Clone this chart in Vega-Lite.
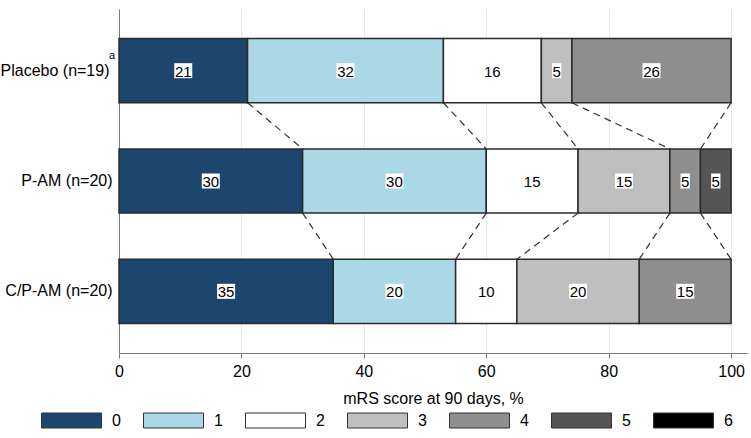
{
  "$schema": "https://vega.github.io/schema/vega-lite/v6.json",
  "autosize": {"type": "none"},
  "padding": {"left": 119, "top": 9, "right": 4, "bottom": 85},
  "width": 628,
  "height": 344,
  "config": {
    "view": {"stroke": null},
    "font": "Liberation Sans",
    "axis": {"labelFont": "Liberation Sans", "titleFont": "Liberation Sans"},
    "legend": {"labelFont": "Liberation Sans"}
  },
  "datasets": {
    "segments": [
      {"group": "Placebo (n=19)", "score": 0, "pct": 21},
      {"group": "Placebo (n=19)", "score": 1, "pct": 32},
      {"group": "Placebo (n=19)", "score": 2, "pct": 16},
      {"group": "Placebo (n=19)", "score": 3, "pct": 5},
      {"group": "Placebo (n=19)", "score": 4, "pct": 26},
      {"group": "P-AM (n=20)", "score": 0, "pct": 30},
      {"group": "P-AM (n=20)", "score": 1, "pct": 30},
      {"group": "P-AM (n=20)", "score": 2, "pct": 15},
      {"group": "P-AM (n=20)", "score": 3, "pct": 15},
      {"group": "P-AM (n=20)", "score": 4, "pct": 5},
      {"group": "P-AM (n=20)", "score": 5, "pct": 5},
      {"group": "C/P-AM (n=20)", "score": 0, "pct": 35},
      {"group": "C/P-AM (n=20)", "score": 1, "pct": 20},
      {"group": "C/P-AM (n=20)", "score": 2, "pct": 10},
      {"group": "C/P-AM (n=20)", "score": 3, "pct": 20},
      {"group": "C/P-AM (n=20)", "score": 4, "pct": 15}
    ],
    "connectors": [
      {"from": "Placebo (n=19)", "to": "P-AM (n=20)", "xa": 21, "xb": 30},
      {"from": "Placebo (n=19)", "to": "P-AM (n=20)", "xa": 53, "xb": 60},
      {"from": "Placebo (n=19)", "to": "P-AM (n=20)", "xa": 69, "xb": 75},
      {"from": "Placebo (n=19)", "to": "P-AM (n=20)", "xa": 74, "xb": 90},
      {"from": "Placebo (n=19)", "to": "P-AM (n=20)", "xa": 100, "xb": 95},
      {"from": "P-AM (n=20)", "to": "C/P-AM (n=20)", "xa": 30, "xb": 35},
      {"from": "P-AM (n=20)", "to": "C/P-AM (n=20)", "xa": 60, "xb": 55},
      {"from": "P-AM (n=20)", "to": "C/P-AM (n=20)", "xa": 75, "xb": 65},
      {"from": "P-AM (n=20)", "to": "C/P-AM (n=20)", "xa": 90, "xb": 85},
      {"from": "P-AM (n=20)", "to": "C/P-AM (n=20)", "xa": 95, "xb": 100}
    ],
    "notes": [
      {"group": "Placebo (n=19)", "note": "a"}
    ]
  },
  "layer": [
    {
      "data": {"name": "connectors"},
      "mark": {"type": "rule", "stroke": "#333333", "strokeWidth": 1.2, "strokeDash": [7, 5]},
      "encoding": {
        "x": {"field": "xa", "type": "quantitative"},
        "x2": {"field": "xb"},
        "y": {"field": "from", "type": "nominal", "bandPosition": 1},
        "y2": {"field": "to", "bandPosition": 0}
      }
    },
    {
      "data": {"name": "notes"},
      "mark": {"type": "text", "fontSize": 11, "color": "#000000", "align": "center", "baseline": "middle", "dx": -7, "dy": -15},
      "encoding": {
        "x": {"datum": 0, "type": "quantitative"},
        "y": {"field": "group", "type": "nominal"},
        "text": {"field": "note"}
      }
    },
    {
      "data": {"name": "segments"},
      "transform": [
        {"stack": "pct", "groupby": ["group"], "sort": [{"field": "score", "order": "ascending"}], "as": ["x0", "x1"]},
        {"calculate": "(datum.x0 + datum.x1) / 2", "as": "mid"},
        {"calculate": "length(toString(datum.pct))", "as": "nd"}
      ],
      "layer": [
        {
          "mark": {"type": "bar", "stroke": "#2b2b2b", "strokeWidth": 1.5},
          "encoding": {
            "x": {"field": "x0", "type": "quantitative"},
            "x2": {"field": "x1"},
            "y": {"field": "group", "type": "nominal"},
            "color": {
              "field": "score",
              "type": "nominal",
              "scale": {
                "domain": [0, 1, 2, 3, 4, 5, 6],
                "range": ["#1d466e", "#abd8e6", "#ffffff", "#bfbfbf", "#8e8e8e", "#555555", "#000000"]
              },
              "legend": {
                "title": null,
                "orient": "none",
                "direction": "horizontal",
                "columns": 7,
                "legendX": -63,
                "legendY": 396,
                "symbolType": "M-2,-0.5H2V0.5H-2Z",
                "symbolSize": 900,
                "symbolStrokeColor": "#333333",
                "symbolStrokeWidth": 1,
                "symbolOpacity": 1,
                "labelFontSize": 16,
                "labelColor": "#000000",
                "labelOffset": 25,
                "columnPadding": 20
              }
            }
          }
        },
        {
          "mark": {"type": "point", "filled": true, "fill": "#ffffff", "opacity": 1, "strokeWidth": 0, "size": 225},
          "encoding": {
            "x": {"field": "mid", "type": "quantitative"},
            "y": {"field": "group", "type": "nominal"},
            "shape": {
              "field": "nd",
              "type": "nominal",
              "scale": {"domain": [1, 2], "range": ["M-0.62,-1H0.62V1H-0.62Z", "M-1.2,-1H1.2V1H-1.2Z"]},
              "legend": null
            }
          }
        },
        {
          "mark": {"type": "text", "fontSize": 15, "color": "#000000", "baseline": "middle", "align": "center", "dy": 1},
          "encoding": {
            "x": {"field": "mid", "type": "quantitative"},
            "y": {"field": "group", "type": "nominal"},
            "text": {"field": "pct", "type": "quantitative"}
          }
        }
      ]
    }
  ],
  "resolve": {"scale": {"x": "shared", "y": "shared"}},
  "encoding": {
    "x": {
      "type": "quantitative",
      "scale": {"domain": [0, 102.6], "nice": false},
      "axis": {
        "values": [0, 20, 40, 60, 80, 100],
        "grid": true,
        "gridColor": "#e8e8e8",
        "domainColor": "#777777",
        "tickColor": "#777777",
        "tickSize": 5,
        "labelFontSize": 16,
        "labelColor": "#000000",
        "labelPadding": 5,
        "labelFlush": false,
        "title": "mRS score at 90 days, %",
        "titleFontSize": 16,
        "titleFontWeight": "normal",
        "titleColor": "#000000",
        "titlePadding": 11
      }
    },
    "y": {
      "type": "nominal",
      "scale": {"domain": ["Placebo (n=19)", "P-AM (n=20)", "C/P-AM (n=20)"], "paddingInner": 0.418, "paddingOuter": 0.268},
      "axis": {
        "title": null,
        "ticks": false,
        "grid": false,
        "domainColor": "#777777",
        "labelFontSize": 16,
        "labelColor": "#000000",
        "labelPadding": {"condition": {"test": "datum.value == 'Placebo (n=19)'", "value": 10}, "value": 7}
      }
    }
  }
}
